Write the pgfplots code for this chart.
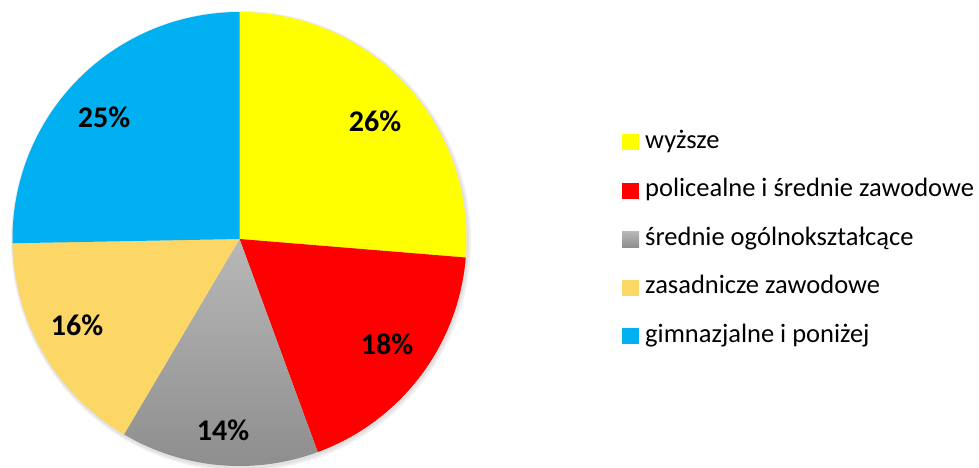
\documentclass[border=0pt]{standalone}
\usepackage{fontspec}
\setmainfont{Carlito}
\usepackage{pgfplots}
\usepackage{pgfplotstable}
\pgfplotsset{compat=1.18}

\definecolor{cyel}{HTML}{FFFF00}
\definecolor{cred}{HTML}{FF0000}
\definecolor{cgrytop}{HTML}{B8B8B8}
\definecolor{cgrybot}{HTML}{8E8E8E}
\definecolor{corg}{HTML}{FDD766}
\definecolor{cblu}{HTML}{00B0F0}

\pgfplotstableread{
val
26.3
18.1
14.1
16.2
25.3
}\piedata

\pgfplotstablegetelem{0}{val}\of\piedata \let\vA\pgfplotsretval
\pgfplotstablegetelem{1}{val}\of\piedata \let\vB\pgfplotsretval
\pgfplotstablegetelem{2}{val}\of\piedata \let\vC\pgfplotsretval
\pgfplotstablegetelem{3}{val}\of\piedata \let\vD\pgfplotsretval
\pgfplotstablegetelem{4}{val}\of\piedata \let\vE\pgfplotsretval

\pgfmathsetmacro{\aA}{90}
\pgfmathsetmacro{\aB}{\aA-3.6*\vA}
\pgfmathsetmacro{\aC}{\aB-3.6*\vB}
\pgfmathsetmacro{\aD}{\aC-3.6*\vC}
\pgfmathsetmacro{\aE}{\aD-3.6*\vD}
\pgfmathsetmacro{\aF}{\aE-3.6*\vE}

\def\cx{239.5}
\def\cy{228}
\def\R{227}

\begin{document}
\begin{tikzpicture}
\begin{axis}[
  width=979pt, height=467pt, scale only axis,
  xmin=0, xmax=979, ymin=0, ymax=467,
  hide axis, clip=false,
  samples=90,
  legend cell align=left,
  legend image code/.code={\path[#1, draw=none] (0pt,-8pt) rectangle (17pt,8pt);},
  legend style={at={(axis cs:622,337)}, anchor=north west, draw=none, fill=none,
    inner sep=0pt, row sep=24.5pt, column sep=6pt,
    font=\fontsize{26.5}{30}\selectfont,
    nodes={inner sep=0pt, text height=18pt, text depth=6pt}},
]
\fill[black, opacity=0.06] (axis cs:\cx+1.5,\cy-2) circle[radius=230pt];
\fill[black, opacity=0.06] (axis cs:\cx+1,\cy-1.5) circle[radius=228.5pt];

\addplot[fill=cyel, draw=none, domain=\aB:\aA] ({\cx+\R*cos(x)},{\cy+\R*sin(x)}) -- (axis cs:\cx,\cy) -- cycle;
\addplot[fill=cred, draw=none, domain=\aC:\aB] ({\cx+\R*cos(x)},{\cy+\R*sin(x)}) -- (axis cs:\cx,\cy) -- cycle;
\addplot[top color=cgrytop, bottom color=cgrybot, draw=none, domain=\aD:\aC] ({\cx+\R*cos(x)},{\cy+\R*sin(x)}) -- (axis cs:\cx,\cy) -- cycle;
\addplot[fill=corg, draw=none, domain=\aE:\aD] ({\cx+\R*cos(x)},{\cy+\R*sin(x)}) -- (axis cs:\cx,\cy) -- cycle;
\addplot[fill=cblu, draw=none, domain=\aF:\aE] ({\cx+\R*cos(x)},{\cy+\R*sin(x)}) -- (axis cs:\cx,\cy) -- cycle;

\legend{wyższe, policealne i średnie zawodowe, średnie ogólnokształcące, zasadnicze zawodowe, gimnazjalne i poniżej}

\begin{scope}[every node/.style={font=\bfseries\fontsize{30}{32}\selectfont, inner sep=0pt}]
\node at (axis cs:375,346) {26\%};
\node at (axis cs:387,123) {18\%};
\node at (axis cs:223,37) {14\%};
\node at (axis cs:77,142) {16\%};
\node at (axis cs:104,350) {25\%};
\end{scope}
\end{axis}
\pgfresetboundingbox
\useasboundingbox (current axis.south west) rectangle (current axis.north east);
\end{tikzpicture}
\end{document}
